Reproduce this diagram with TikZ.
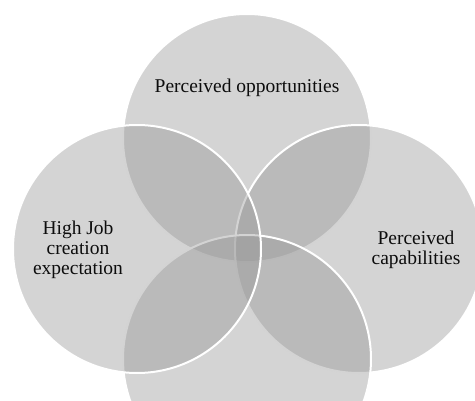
\documentclass[tikz,border=0pt]{standalone}
\usepackage{fontspec}
\setmainfont{Liberation Serif}
\usetikzlibrary{positioning}
\definecolor{setgray}{RGB}{150,150,150}

\begin{document}
\begin{tikzpicture}[x=1pt,y=1pt,
  set/.style={circle, draw=white, line width=2pt, fill=setgray, fill opacity=0.41, draw opacity=1,
    minimum size=248pt, inner sep=0pt},
  setlabel/.style={text=black!95, align=center, font=\fontsize{19.5}{20}\selectfont},
]
\useasboundingbox (0,0) rectangle (475,400);

% circles, back to front
\node[set] (opp) at (247,262) {};
\node[set] (cap) at (359,151) {};
\node[set] (fear) at (247,41) {};
\node[set] (job) at (137,151) {};

% texts
\node[setlabel] (opptext) at (247,312) {Perceived opportunities};
\node[setlabel] (captext) at (416,150) {Perceived\\capabilities};
\node[setlabel] (jobtext) at (78,150) {High Job\\creation\\expectation};

\end{tikzpicture}
\end{document}
